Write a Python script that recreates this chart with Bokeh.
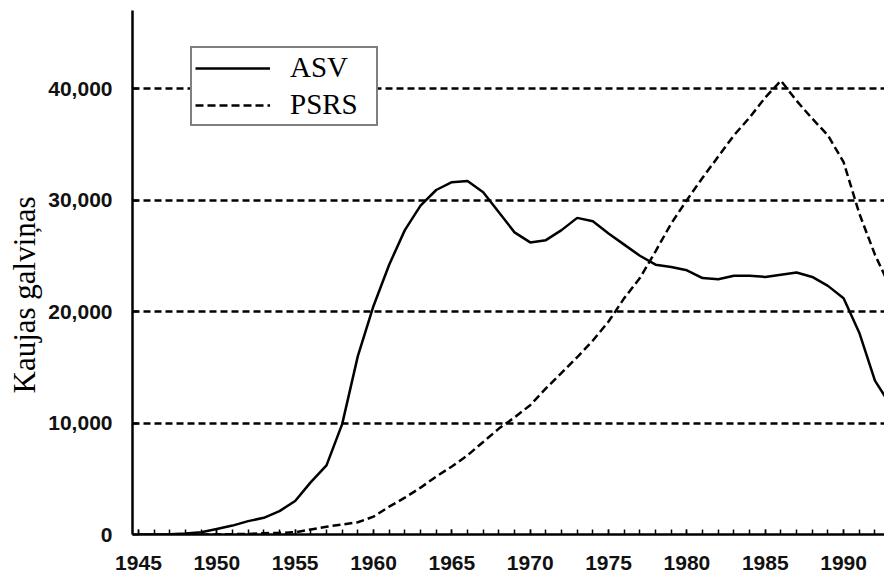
from bokeh.plotting import figure
from bokeh.models import Range1d, NumeralTickFormatter, FixedTicker, Title
from bokeh.embed import file_html
from bokeh.resources import INLINE

# Data
asv_years = list(range(1945, 1994))
asv = [0, 10, 30, 100, 200, 500, 800, 1200, 1500, 2100,
       3000, 4700, 6200, 9900, 16000, 20500, 24200, 27300, 29500, 30900,
       31600, 31700, 30700, 28900, 27100, 26200, 26400, 27300, 28400, 28100,
       27000, 26000, 25000, 24200, 24000, 23700, 23000, 22900, 23200, 23200,
       23100, 23300, 23500, 23100, 22300, 21200, 18100, 13800, 11600]

psrs_years = list(range(1949, 1994))
psrs = [0, 10, 30, 50, 120, 150, 200, 450, 700, 900,
        1100, 1600, 2500, 3300, 4200, 5200, 6100, 7100, 8300, 9500,
        10500, 11600, 13100, 14500, 15900, 17400, 19100, 21200, 23000, 25400,
        27900, 30000, 32000, 33900, 35800, 37400, 39200, 40700, 38900, 37300,
        35800, 33400, 28800, 25100, 22100]

x_label_years = [1945, 1950, 1955, 1960, 1965, 1970, 1975, 1980, 1985, 1990]
x_minor_years = list(range(1945, 1993))
y_ticks = [0, 10000, 20000, 30000, 40000]

series_names = ["ASV", "PSRS"]
y_title = "Kaujas galviņas"

p = figure(width=884, height=575, output_backend="svg", toolbar_location=None,
           x_range=Range1d(1944.62, 1992.61), y_range=Range1d(0, 47000),
           min_border_left=131, min_border_right=0, min_border_top=10,
           min_border_bottom=41)
p.outline_line_color = None
p.background_fill_color = "white"
p.border_fill_color = "white"

p.line(asv_years, asv, line_color="black", line_width=2.5, legend_label=series_names[0])
p.line(psrs_years, psrs, line_color="black", line_width=2.5, line_dash="8 4",
       legend_label=series_names[1])

# X axis
xa = p.xaxis[0]
xa.ticker = FixedTicker(ticks=x_label_years, minor_ticks=x_minor_years)
xa.axis_line_width = 2.5
xa.axis_line_color = "black"
xa.major_tick_in = 5
xa.major_tick_out = 0
xa.minor_tick_in = 5
xa.minor_tick_out = 0
xa.major_tick_line_width = 1.5
xa.minor_tick_line_width = 1.5
xa.major_label_standoff = 21
xa.major_label_text_font = "Liberation Sans"
xa.major_label_text_font_size = "21px"
xa.major_label_text_font_style = "bold"
xa.major_label_text_color = "#111111"

# Y axis
ya = p.yaxis[0]
ya.ticker = FixedTicker(ticks=y_ticks, minor_ticks=[])
ya.formatter = NumeralTickFormatter(format="0,0")
ya.axis_line_width = 2.5
ya.axis_line_color = "black"
ya.major_tick_in = 6
ya.major_tick_out = 0
ya.major_tick_line_width = 2
ya.minor_tick_in = 0
ya.minor_tick_out = 0
ya.major_label_standoff = 20
ya.major_label_text_font = "Liberation Sans"
ya.major_label_text_font_size = "21px"
ya.major_label_text_font_style = "bold"
ya.major_label_text_color = "#111111"

ytitle = Title(text=y_title, align="left", offset=141, standoff=8,
               text_font="Liberation Serif", text_font_size="31px",
               text_font_style="normal", text_color="black")
p.add_layout(ytitle, "left")

p.xgrid.visible = False
p.ygrid.ticker = FixedTicker(ticks=y_ticks[1:])
p.ygrid.grid_line_color = "black"
p.ygrid.grid_line_width = 2.5
p.ygrid.grid_line_dash = "7 4"

lg = p.legend[0]
lg.location = (58, 408)
lg.border_line_color = "black"
lg.border_line_width = 2.5
lg.background_fill_color = "white"
lg.background_fill_alpha = 1
lg.label_text_font = "Liberation Serif"
lg.label_text_font_size = "29px"
lg.label_text_color = "black"
lg.glyph_width = 75
lg.glyph_height = 32
lg.label_height = 32
lg.label_width = 83
lg.label_standoff = 20
lg.spacing = 4
lg.padding = 3
lg.margin = 0

open("out.html", "w").write(file_html(p, INLINE))
